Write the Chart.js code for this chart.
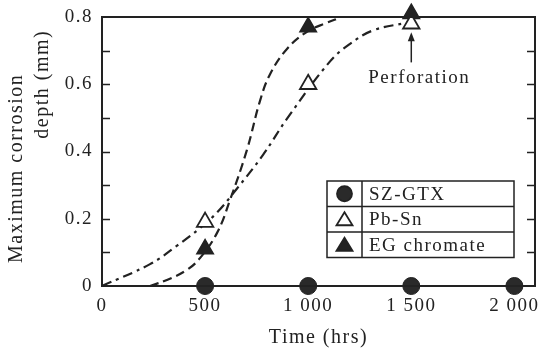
<!DOCTYPE html>
<html>
<head>
<meta charset="utf-8">
<script src="https://cdn.jsdelivr.net/npm/chart.js@4.4.0/dist/chart.umd.min.js"></script>
<style>
  html, body { margin: 0; padding: 0; background: #fff; }
  #wrap { width: 540px; height: 354px; }
</style>
</head>
<body>
<div id="wrap"><canvas id="depthChart"></canvas></div>
<script>
// measured points
const szHours = [500, 1000, 1500, 2000];
const szDepth = [0, 0, 0, 0];
const pbHours = [500, 1000, 1500];
const pbDepth = [0.19, 0.6, 0.78];
const egHours = [500, 1000, 1500];
const egDepth = [0.11, 0.77, 0.81];

// fitted curves
const pbCurveHours = [0, 233, 364, 475, 560, 655, 781, 900, 1106, 1203, 1314, 1479];
const pbCurveDepth = [0, 0.065, 0.12, 0.172, 0.22, 0.29, 0.39, 0.5, 0.668, 0.72, 0.76, 0.783];
const egCurveHours = [233, 315, 412, 475, 558, 621, 703, 766, 815, 897, 994, 1091, 1154];
const egCurveDepth = [0, 0.018, 0.048, 0.083, 0.158, 0.256, 0.405, 0.55, 0.63, 0.705, 0.756, 0.783, 0.798];

const xTickValues = [0, 500, 1000, 1500, 2000];
const xTickLabels = ['0', '500', '1 000', '1 500', '2 000'];
const yTickValues = [0, 0.2, 0.4, 0.6, 0.8];
const yTickLabels = ['0', '0.2', '0.4', '0.6', '0.8'];
const yTitleLines = ['Maximum corrosion', 'depth (mm)'];
const legendNames = ['SZ-GTX', 'Pb-Sn', 'EG chromate'];

const ink = '#222';
const serif = '"Liberation Serif", "DejaVu Serif", serif';

function pairs(xs, ys) {
    return xs.map((x, i) => ({ x: x, y: ys[i] }));
}

function noPadding(s) {
    s.paddingLeft = 0; s.paddingRight = 0; s.paddingTop = 0; s.paddingBottom = 0;
}

// wide letter spacing like the printed figure
const spacing = {
    id: 'spacing',
    beforeLayout(chart) { chart.ctx.letterSpacing = '1.5px'; },
    beforeDraw(chart) { chart.ctx.letterSpacing = '1.5px'; }
};

// frame, inner ticks, y title, legend box and the perforation note
const extras = {
    id: 'extras',
    afterDraw(chart) {
        const ctx = chart.ctx;
        const a = chart.chartArea;
        const xs = chart.scales.x, ys = chart.scales.y;
        ctx.save();
        ctx.letterSpacing = '1.5px';
        ctx.strokeStyle = ink;
        ctx.lineWidth = 2;
        ctx.strokeRect(a.left, a.top, a.right - a.left, a.bottom - a.top);

        ctx.lineWidth = 1.5;
        for (let v = 0.1; v < 0.79; v += 0.1) {
            const py = Math.round(ys.getPixelForValue(v)) + 0.5;
            ctx.beginPath();
            ctx.moveTo(a.left, py); ctx.lineTo(a.left + 8, py);
            ctx.moveTo(a.right, py); ctx.lineTo(a.right - 8, py);
            ctx.stroke();
        }

        // y title, two lines set like the print
        ctx.fillStyle = ink;
        ctx.font = '20px ' + serif;
        ctx.textAlign = 'center';
        ctx.textBaseline = 'middle';
        [[17, ys.getPixelForValue(0.35)], [43, ys.getPixelForValue(0.6)]].forEach((p, i) => {
            ctx.save();
            ctx.translate(p[0], p[1]);
            ctx.rotate(-Math.PI / 2);
            ctx.fillText(yTitleLines[i], 0, 0);
            ctx.restore();
        });
        ctx.textAlign = 'left';

        // legend table
        const L = 327, R = 514, T = 181, rowH = 25.5, D = 362;
        ctx.lineWidth = 1.5;
        ctx.strokeRect(L, T, R - L, rowH * 3);
        ctx.beginPath();
        ctx.moveTo(D, T); ctx.lineTo(D, T + rowH * 3);
        ctx.moveTo(L, T + rowH); ctx.lineTo(R, T + rowH);
        ctx.moveTo(L, T + rowH * 2); ctx.lineTo(R, T + rowH * 2);
        ctx.stroke();
        ctx.font = '19px ' + serif;
        const sx = (L + D) / 2;
        chart.data.datasets.slice(0, 3).forEach((ds, i) => {
            const cy = T + rowH * i + rowH / 2;
            ctx.fillText(legendNames[i], D + 7, cy + 1);
            ctx.lineWidth = 1.8;
            ctx.fillStyle = ds.pointBackgroundColor;
            ctx.strokeStyle = ink;
            ctx.beginPath();
            if (ds.pointStyle === 'circle') {
                ctx.arc(sx, cy, 7.5, 0, Math.PI * 2);
            } else {
                ctx.moveTo(sx, cy - 7);
                ctx.lineTo(sx + 8, cy + 6);
                ctx.lineTo(sx - 8, cy + 6);
                ctx.closePath();
            }
            ctx.fill();
            ctx.stroke();
            ctx.fillStyle = ink;
        });

        // perforation arrow
        const ax = xs.getPixelForValue(1500);
        const ayTop = ys.getPixelForValue(0.755);
        const ayBot = ys.getPixelForValue(0.665);
        ctx.strokeStyle = ink;
        ctx.lineWidth = 1.5;
        ctx.beginPath();
        ctx.moveTo(ax, ayBot); ctx.lineTo(ax, ayTop + 4);
        ctx.stroke();
        ctx.beginPath();
        ctx.moveTo(ax, ayTop); ctx.lineTo(ax - 3.5, ayTop + 9); ctx.lineTo(ax + 3.5, ayTop + 9);
        ctx.closePath();
        ctx.fill();
        ctx.textAlign = 'center';
        ctx.font = '19px ' + serif;
        ctx.fillText('Perforation', ax + 8, ys.getPixelForValue(0.62));
        ctx.restore();
    }
};

const ctx = document.getElementById('depthChart').getContext('2d');
const chart = new Chart(ctx, {
    type: 'scatter',
    data: {
        datasets: [
            {
                label: 'SZ-GTX',
                data: pairs(szHours, szDepth),
                pointStyle: 'circle',
                pointRadius: 8.5,
                pointBackgroundColor: '#2a2a2a',
                pointBorderColor: ink,
                pointBorderWidth: 1,
                showLine: false,
                clip: false,
                order: 0
            },
            {
                label: 'Pb-Sn',
                data: pairs(pbHours, pbDepth),
                pointStyle: 'triangle',
                pointRadius: 9.5,
                pointBackgroundColor: '#ffffff',
                pointBorderColor: ink,
                pointBorderWidth: 1.8,
                showLine: false,
                clip: false,
                order: 0
            },
            {
                label: 'EG chromate',
                data: pairs(egHours, egDepth),
                pointStyle: 'triangle',
                pointRadius: 9.5,
                pointBackgroundColor: '#222222',
                pointBorderColor: ink,
                pointBorderWidth: 1.5,
                showLine: false,
                clip: false,
                order: 1
            },
            {
                label: 'Pb-Sn curve',
                data: pairs(pbCurveHours, pbCurveDepth),
                showLine: true,
                pointRadius: 0,
                borderColor: ink,
                borderWidth: 2.2,
                borderDash: [10, 5, 3, 5],
                tension: 0.4,
                fill: false,
                order: 2
            },
            {
                label: 'EG curve',
                data: pairs(egCurveHours, egCurveDepth),
                showLine: true,
                pointRadius: 0,
                borderColor: ink,
                borderWidth: 2.2,
                borderDash: [9, 5],
                tension: 0.4,
                fill: false,
                order: 2
            }
        ]
    },
    options: {
        responsive: true,
        maintainAspectRatio: false,
        animation: false,
        layout: { autoPadding: false, padding: { left: 0, top: 17, right: 5, bottom: 0 } },
        plugins: {
            legend: { display: false },
            tooltip: { enabled: false }
        },
        scales: {
            x: {
                type: 'linear',
                min: 0,
                max: 2100,
                afterBuildTicks: s => { s.ticks = xTickValues.map(v => ({ value: v })); },
                afterFit: s => { s.height = 68; noPadding(s); },
                ticks: {
                    autoSkip: false,
                    maxRotation: 0,
                    padding: 9,
                    color: ink,
                    font: { family: serif, size: 19 },
                    callback: (v) => xTickLabels[xTickValues.indexOf(v)]
                },
                grid: { display: false, drawTicks: false },
                border: { display: false },
                title: {
                    display: true,
                    text: 'Time (hrs)',
                    color: ink,
                    font: { family: serif, size: 20 },
                    padding: { top: 2 }
                }
            },
            y: {
                min: 0,
                max: 0.8,
                afterBuildTicks: s => { s.ticks = yTickValues.map(v => ({ value: v })); },
                afterFit: s => { s.width = 102; noPadding(s); },
                ticks: {
                    padding: 9,
                    color: ink,
                    font: { family: serif, size: 19 },
                    callback: (v) => yTickLabels[yTickValues.indexOf(v)]
                },
                grid: { display: false, drawTicks: false },
                border: { display: false },
                title: { display: false }
            }
        }
    },
    plugins: [spacing, extras]
});
</script>
</body>
</html>
